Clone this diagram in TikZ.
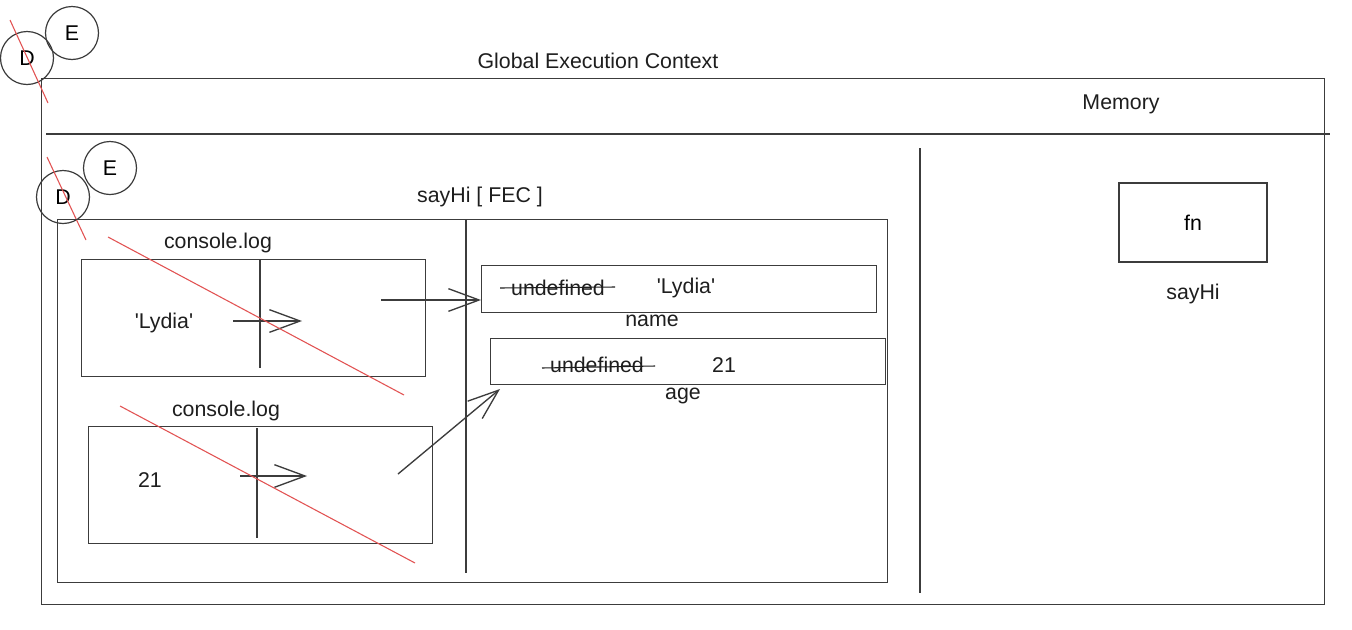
\documentclass[tikz,border=0pt]{standalone}
\usepackage{fontspec}
\newfontfamily\sketchfont{Liberation Sans}
\usetikzlibrary{positioning, arrows.meta}

\newdimen\px
\px=0.75pt

\begin{document}
\begin{tikzpicture}[
    x=0.75pt, y=-0.75pt,
    box/.style={rectangle, draw=linegray, line width=1pt, inner sep=0pt, anchor=north west},
    fnbox/.style={rectangle, draw=linegray, line width=1pt, inner sep=0pt, font=\sketchfont\fontsize{16}{19}\selectfont},
    marker/.style={circle, draw=linegray, line width=0.9pt, minimum size=53\px, inner sep=0pt, font=\sketchfont\fontsize{16}{19}\selectfont},
    label text/.style={font=\sketchfont\fontsize{16}{19}\selectfont, text=textgray, inner sep=0pt},
    divider/.style={draw=linegray, line width=1pt},
    cross/.style={draw=crossred, line width=0.8pt},
    strike/.style={draw=textgray, line width=0.8pt},
    flow/.style={draw=linegray, line width=1pt, -{Straight Barb[length=23pt, width=17pt, line width=1pt]}}
]

% Define colors
\definecolor{linegray}{RGB}{60,60,60}
\definecolor{textgray}{RGB}{30,30,30}
\definecolor{crossred}{RGB}{226,82,82}

\fill[white] (0,0) rectangle (1352,629);
\useasboundingbox (0,0) rectangle (1352,629);

% --- Global Execution Context ---
\node[label text] (gectitle) at (598,61) {Global Execution Context};
\node[box, minimum width=1283\px, minimum height=526\px] (gec) at (41,78) {};
\draw[divider] (46,134) -- (1330,134);
\draw[divider] (920,148) -- (920,593);

% Memory
\node[label text] (memory) at (1121,104) {Memory};
\node[fnbox, minimum width=148\px, minimum height=79\px] (fn) at (1193,222.5) {fn};
\node[label text] (fnname) at (1193,294) {sayHi};

% D / E markers, top
\node[marker] (d1) at (27,58) {D};
\node[marker] (e1) at (72,33) {E};
\draw[cross] (10,20) -- (48,103);

% --- Function Execution Context ---
\node[marker] (d2) at (63,197) {D};
\node[marker] (e2) at (110,168) {E};
\draw[cross] (47,157) -- (86,240);

\node[label text] (fectitle) at (480,197) {sayHi [ FEC ]};
\node[box, minimum width=830\px, minimum height=363\px] (fec) at (57,219) {};
\draw[divider] (466,219) -- (466,573);

% First console.log
\node[label text] (log1) at (218,243) {console.log};
\node[box, minimum width=344\px, minimum height=117\px] (call1) at (81,259) {};
\draw[divider] (260,259) -- (260,368);
\node[label text] (arg1) at (164,323) {'Lydia'};
\coordinate (in1) at (233,321);
\coordinate (out1) at (302,321);
\draw[flow] (in1) -- (out1);

% Second console.log
\node[label text] (log2) at (226,411) {console.log};
\node[box, minimum width=344\px, minimum height=117\px] (call2) at (88,426) {};
\draw[divider] (257,428) -- (257,538);
\node[label text] (arg2) at (150,480) {21};
\coordinate (in2) at (240,476);
\coordinate (out2) at (307,476);
\draw[flow] (in2) -- (out2);

% Crossed out calls
\draw[cross] (108,237) -- (404,395);
\draw[cross] (120,406) -- (415,563);

% Variables
\node[box, minimum width=395\px, minimum height=47\px] (name) at (481,265) {};
\node[label text] (oldname) at (558,288) {undefined};
\draw[strike] (500,288) -- (615,287);
\node[label text] (newname) at (686,288) {'Lydia'};
\node[label text] (namelabel) at (652,321) {name};

\node[box, minimum width=395\px, minimum height=46\px] (age) at (490,338) {};
\node[label text] (oldage) at (597,365) {undefined};
\draw[strike] (542,368) -- (655,366);
\node[label text] (newage) at (724,365) {21};
\node[label text] (agelabel) at (683,396) {age};

% Assignments
\coordinate (from1) at (381,300);
\draw[flow] (from1) -- (name.west |- from1);
\coordinate (from2) at (398,474);
\coordinate (to2) at (500,389);
\draw[flow] (from2) -- (to2);

\end{tikzpicture}
\end{document}
